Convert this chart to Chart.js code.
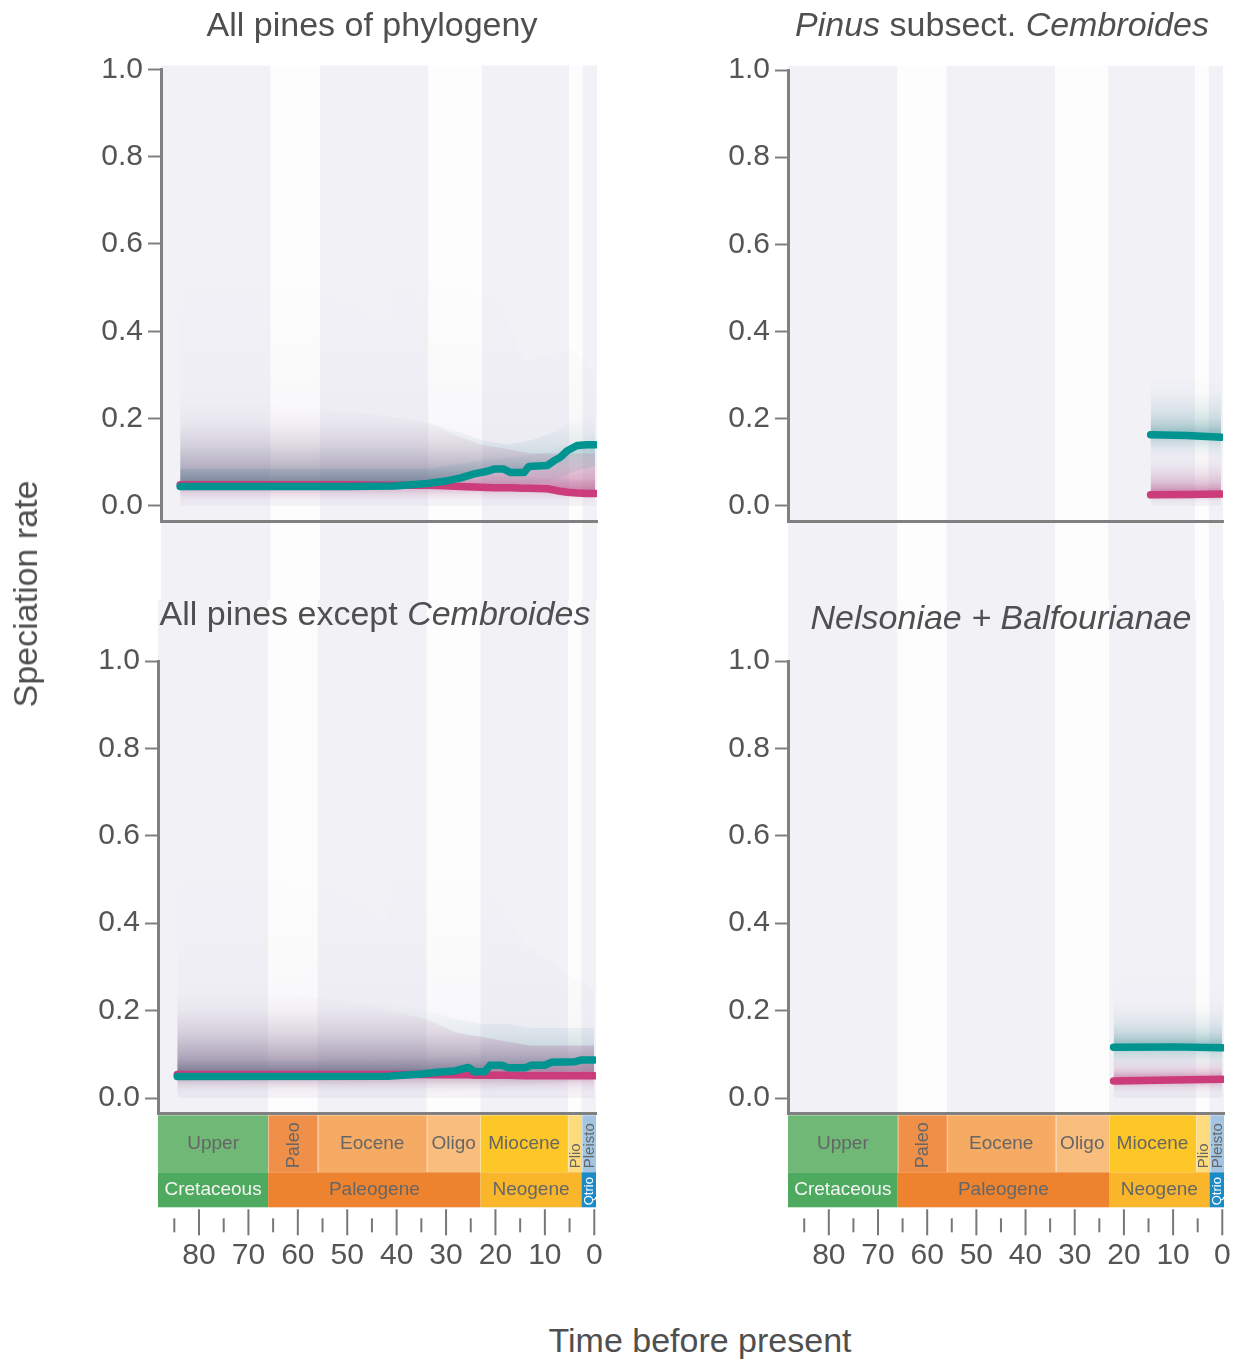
<!DOCTYPE html>
<html>
<head>
<meta charset="utf-8">
<script src="https://cdn.jsdelivr.net/npm/chart.js@4.4.1/dist/chart.umd.min.js"></script>
<style>
  body { margin: 0; background: #fff; }
  #page { position: relative; width: 1241px; height: 1363px; overflow: hidden;
          font-family: 'Liberation Sans', Arial, Helvetica, sans-serif; color: #4f4f4f; }
  canvas { position: absolute; }
  .lbl { position: absolute; font-size: 34px; line-height: 1; white-space: nowrap;
         transform: translate(-50%, -50%); }
</style>
</head>
<body>
<div id="page">
  <canvas id="tl" width="620" height="600" style="left:0;top:0"></canvas>
  <canvas id="tr" width="621" height="600" style="left:620px;top:0"></canvas>
  <canvas id="bl" width="620" height="700" style="left:0;top:600px"></canvas>
  <canvas id="br" width="621" height="700" style="left:620px;top:600px"></canvas>

  <div class="lbl" style="left:372px;top:24px">All pines of phylogeny</div>
  <div class="lbl" style="left:1002px;top:24px"><i>Pinus</i> subsect. <i>Cembroides</i></div>
  <div class="lbl" style="left:375px;top:613px">All pines except <i>Cembroides</i></div>
  <div class="lbl" style="left:1001px;top:617px"><i>Nelsoniae + Balfourianae</i></div>
  <div class="lbl" style="left:25px;top:594px;transform:translate(-50%,-50%) rotate(-90deg)">Speciation rate</div>
  <div class="lbl" style="left:700px;top:1340px">Time before present</div>
</div>
<script>
// ---- axes ----
const xMin = -0.35, xMax = 88.3;        // Ma, axis is reversed (past on the left)
const yMin = -0.035, yMax = 1.0;
const xTicks = [80, 70, 60, 50, 40, 30, 20, 10, 0];
const xMinorTicks = [85, 75, 65, 55, 45, 35, 25, 15, 5];
const yTicks = [0, 0.2, 0.4, 0.6, 0.8, 1.0];

// ---- geological time scale ----
const epochNames = ['Upper', 'Paleo', 'Eocene', 'Oligo', 'Miocene', 'Plio', 'Pleisto'];
const epochStart = [100.5, 66, 56, 33.9, 23.03, 5.333, 2.58];
const epochEnd = [66, 56, 33.9, 23.03, 5.333, 2.58, 0];
const periodNames = ['Cretaceous', 'Paleogene', 'Neogene', 'Qtrio'];
const periodStart = [100.5, 66, 23.03, 2.58];
const periodEnd = [66, 23.03, 2.58, 0];

// ---- All pines of phylogeny ----
const tlAge = [84.4, 70, 60, 50, 40.8, 34.1, 30.7, 27.3, 24.6, 21.9, 20.6, 18.6, 17.2, 14.5, 13.5, 9.8, 8.4, 7.1, 5.7, 3.7, 1.7, 0];
const tlTeal = [0.044, 0.044, 0.044, 0.044, 0.045, 0.051, 0.056, 0.064, 0.073, 0.079, 0.084, 0.084, 0.076, 0.076, 0.090, 0.092, 0.103, 0.111, 0.126, 0.138, 0.140, 0.140];
const tlMagenta = [0.048, 0.048, 0.048, 0.048, 0.047, 0.047, 0.046, 0.044, 0.043, 0.042, 0.041, 0.041, 0.041, 0.040, 0.040, 0.039, 0.036, 0.033, 0.031, 0.029, 0.028, 0.028];
const tlBandAge = [84.4, 75, 66, 56, 45, 34, 28, 23, 18, 13, 8, 4, 0];
const tlTealHi = [0.24, 0.24, 0.23, 0.22, 0.21, 0.19, 0.17, 0.15, 0.14, 0.15, 0.17, 0.2, 0.2];
const tlTealMid = [0.085, 0.085, 0.085, 0.085, 0.085, 0.085, 0.095, 0.105, 0.11, 0.115, 0.13, 0.165, 0.17];
const tlTealLo = [0, 0, 0, 0, 0.005, 0.015, 0.025, 0.035, 0.045, 0.05, 0.06, 0.08, 0.09];
const tlMagHi = [0.24, 0.24, 0.23, 0.22, 0.21, 0.19, 0.16, 0.14, 0.13, 0.12, 0.12, 0.12, 0.12];
const tlMagMid = [0.09, 0.09, 0.09, 0.09, 0.085, 0.08, 0.075, 0.07, 0.068, 0.065, 0.062, 0.06, 0.06];
const tlMagLo = [0.005, 0.005, 0.005, 0.005, 0.005, 0.005, 0.005, 0.005, 0.005, 0.005, 0.005, 0.003, 0.003];
const tlHazeAge = [84.4, 80, 75, 66, 51, 42, 40, 37, 36, 29, 25, 20, 14.5, 5, 0];
const tlHazeHi = [0.67, 0.67, 0.53, 0.53, 0.47, 0.41, 0.62, 0.62, 0.45, 0.65, 0.48, 0.48, 0.33, 0.36, 0.3];

// ---- Pinus subsect. Cembroides ----
const trAge = [14.4, 7, 0];
const trTeal = [0.163, 0.161, 0.157];
const trMagenta = [0.025, 0.026, 0.027];
const trBandAge = [14.4, 7, 0];
const trTealHi = [0.3, 0.29, 0.28];
const trTealMid = [0.21, 0.2, 0.2];
const trTealLo = [0.1, 0.1, 0.1];
const trMagHi = [0.12, 0.12, 0.12];
const trMagMid = [0.06, 0.06, 0.06];
const trMagLo = [0.005, 0.005, 0.005];
const trHazeAge = [14.4, 7, 0];
const trHazeHi = [0.37, 0.36, 0.35];

// ---- All pines except Cembroides ----
const blAge = [84.4, 41.8, 35.0, 31.6, 28.2, 25.5, 24.2, 22.1, 21.1, 18.7, 17.4, 14.0, 12.7, 10.0, 8.6, 3.9, 2.5, 0];
const blTeal = [0.049, 0.050, 0.055, 0.059, 0.062, 0.070, 0.060, 0.060, 0.075, 0.075, 0.069, 0.069, 0.075, 0.075, 0.082, 0.083, 0.087, 0.087];
const blMagenta = [0.054, 0.054, 0.054, 0.053, 0.053, 0.053, 0.052, 0.052, 0.052, 0.052, 0.052, 0.051, 0.051, 0.051, 0.051, 0.051, 0.051, 0.051];
const blBandAge = [84.4, 75, 66, 56, 45, 34, 28, 23, 18, 13, 8, 4, 0];
const blTealHi = [0.25, 0.25, 0.24, 0.23, 0.22, 0.2, 0.18, 0.17, 0.17, 0.16, 0.16, 0.16, 0.16];
const blTealMid = [0.085, 0.085, 0.085, 0.085, 0.085, 0.09, 0.095, 0.1, 0.105, 0.105, 0.11, 0.115, 0.115];
const blTealLo = [0, 0, 0, 0, 0.005, 0.01, 0.015, 0.02, 0.025, 0.03, 0.035, 0.04, 0.04];
const blMagHi = [0.25, 0.25, 0.24, 0.23, 0.21, 0.18, 0.15, 0.14, 0.13, 0.12, 0.12, 0.12, 0.12];
const blMagMid = [0.095, 0.095, 0.095, 0.095, 0.09, 0.09, 0.088, 0.085, 0.085, 0.085, 0.085, 0.085, 0.085];
const blMagLo = [0.005, 0.005, 0.005, 0.005, 0.005, 0.005, 0.005, 0.005, 0.005, 0.005, 0.005, 0.005, 0.005];
const blHazeAge = [84.4, 80, 75, 66, 51, 42, 40, 37, 35, 29, 26, 20, 14, 5, 0];
const blHazeHi = [0.67, 0.65, 0.55, 0.5, 0.47, 0.4, 0.63, 0.63, 0.5, 0.6, 0.55, 0.45, 0.35, 0.28, 0.25];

// ---- Nelsoniae + Balfourianae ----
const brAge = [22.1, 10, 0];
const brTeal = [0.116, 0.117, 0.115];
const brMagenta = [0.039, 0.041, 0.043];
const brBandAge = [22.1, 10, 0];
const brTealHi = [0.23, 0.23, 0.23];
const brTealMid = [0.16, 0.16, 0.16];
const brTealLo = [0.06, 0.06, 0.06];
const brMagHi = [0.1, 0.1, 0.1];
const brMagMid = [0.065, 0.065, 0.065];
const brMagLo = [0.005, 0.005, 0.005];
const brHazeAge = [22.1, 10, 0];
const brHazeHi = [0.37, 0.36, 0.35];

// ---- styles ----
const TEAL = '#009491';
const MAGENTA = '#cc3b7a';
const TEAL_HAZE = '20,118,124';
const MAG_HAZE = '178,68,126';
const GREY_HAZE = '205,200,222';
const BAND_GREY = '#f1f1f6';
const BAND_WHITE = '#fefdfd';
const AXIS_GREY = '#808080';
const TEXT_GREY = '#555555';
const epochColors = ['#6fb875', '#ef8f48', '#f5ab63', '#f9bd7d', '#fdc728', '#fedb7c', '#a3c5e2'];
const epochVertical = [false, true, false, false, false, true, true];
const epochFontSize = [19, 18, 19, 19, 19, 15, 15];
const periodColors = ['#4eaa5e', '#ed832f', '#f9b62b', '#1a8bc6'];
const periodTextColors = ['#f4f4f4', '#666666', '#666666', '#ffffff'];

Chart.defaults.font.family = "'Liberation Sans', Arial, Helvetica, sans-serif";
Chart.defaults.animation = false;

const pts = (ages, vals) => ages.map((a, i) => ({ x: a, y: vals[i] }));
const clampAge = v => (v <= 0 ? xMin : Math.min(v, xMax));
const maxOf = a => Math.max(...a);
const minOf = a => Math.min(...a);

// vertical gradient: alpha rises (or falls) towards the median line, eased so most
// of the colour sits close to the line
const grad = (chart, topVal, botVal, rgb, aTop, aBot) => {
  const y = chart.scales.y;
  const flat = `rgba(${rgb},${(aTop + aBot) / 2})`;
  if (!chart.chartArea || !y) return flat;
  const y0 = y.getPixelForValue(topVal), y1 = y.getPixelForValue(botVal);
  if (!isFinite(y0) || !isFinite(y1) || y0 === y1) return flat;
  const g = chart.ctx.createLinearGradient(0, y0, 0, y1);
  [0, 0.25, 0.5, 0.7, 0.85, 1].forEach(t => {
    const w = aTop > aBot ? 1 - t : t;          // 0 far from the line, 1 at the line
    const a = Math.max(aTop, aBot) * Math.pow(w, 2.2);
    g.addColorStop(t, `rgba(${rgb},${a.toFixed(3)})`);
  });
  return g;
};

// alternating epoch bands behind the plot
const bandsPlugin = (topFn, bottomFn) => ({
  id: 'epochBands',
  beforeDraw(chart) {
    const { ctx, scales: { x } } = chart;
    const top = topFn(chart), bottom = bottomFn(chart);
    ctx.save();
    epochStart.forEach((s, i) => {
      const x0 = x.getPixelForValue(clampAge(s)), x1 = x.getPixelForValue(clampAge(epochEnd[i]));
      ctx.fillStyle = i % 2 === 0 ? BAND_GREY : BAND_WHITE;
      ctx.fillRect(x0, top, x1 - x0, bottom - top);
    });
    ctx.restore();
  }
});

// time scale bar + tick marks under the bottom panels
const timescalePlugin = {
  id: 'timescale',
  afterDraw(chart) {
    const { ctx, chartArea, scales: { x } } = chart;
    const b = chartArea.bottom;
    const cell = (s, e, y0, h, color, name, txtColor, size, vertical, vy) => {
      const x0 = x.getPixelForValue(clampAge(s)), x1 = x.getPixelForValue(clampAge(e));
      ctx.fillStyle = color;
      ctx.fillRect(x0, y0, x1 - x0, h);
      ctx.fillStyle = txtColor;
      ctx.font = `${size}px 'Liberation Sans', Arial, sans-serif`;
      ctx.textBaseline = 'middle';
      const cx = (x0 + x1) / 2;
      if (vertical) {
        ctx.save();
        ctx.translate(cx + 1, vy);
        ctx.rotate(-Math.PI / 2);
        ctx.textAlign = 'left';
        ctx.fillText(name, 0, 0);
        ctx.restore();
      } else {
        ctx.textAlign = 'center';
        ctx.fillText(name, cx, y0 + h / 2);
      }
    };
    ctx.save();
    epochNames.forEach((n, i) => {
      cell(epochStart[i], epochEnd[i], b + 2, 57, epochColors[i], n, '#666666', epochFontSize[i], epochVertical[i], b + 55);
    });
    // faint separators between epochs
    ctx.strokeStyle = 'rgba(255,255,255,0.35)';
    ctx.lineWidth = 1;
    epochEnd.slice(0, -1).forEach(e => {
      const px = Math.round(x.getPixelForValue(e)) + 0.5;
      ctx.beginPath(); ctx.moveTo(px, b + 2); ctx.lineTo(px, b + 59); ctx.stroke();
    });
    periodNames.forEach((n, i) => {
      const last = i === periodNames.length - 1;
      cell(periodStart[i], periodEnd[i], b + 59, 35, periodColors[i], n, periodTextColors[i], last ? 13 : 19, last, b + 92);
    });
    ctx.strokeStyle = '#777777';
    ctx.lineWidth = 2;
    const tick = (v, y0, y1) => {
      const px = x.getPixelForValue(v);
      ctx.beginPath(); ctx.moveTo(px, y0); ctx.lineTo(px, y1); ctx.stroke();
    };
    xTicks.forEach(v => tick(v, b + 96, b + 122));
    xMinorTicks.forEach(v => tick(v, b + 105, b + 119));
    ctx.restore();
  }
};

function makePanel(id, d, box) {
  const haze = (data, target, color, order) => ({
    data, fill: target, backgroundColor: color, borderWidth: 0, pointRadius: 0, order
  });
  const datasets = [
    { data: pts(d.age, d.teal), borderColor: TEAL, borderWidth: 7.5, borderCapStyle: 'round',
      borderJoinStyle: 'round', pointRadius: 0, fill: false, order: 0 },
    { data: pts(d.age, d.magenta), borderColor: MAGENTA, borderWidth: 7.5, borderCapStyle: 'round',
      borderJoinStyle: 'round', pointRadius: 0, fill: false, order: 1 },
    haze(pts(d.hazeAge, d.hazeHi), { value: 0 },
      c => grad(c.chart, maxOf(d.hazeHi), 0.03, GREY_HAZE, 0.0, 0.2), 9),
    haze(pts(d.bandAge, d.magHi), 1,
      c => grad(c.chart, maxOf(d.magHi), minOf(d.magenta), MAG_HAZE, 0, 0.55), 8),
    haze(pts(d.bandAge, d.tealHi), 0,
      c => grad(c.chart, maxOf(d.tealHi), minOf(d.teal), TEAL_HAZE, 0, 0.36), 7),
    haze(pts(d.bandAge, d.magMid), 1,
      c => grad(c.chart, maxOf(d.magMid), minOf(d.magenta), MAG_HAZE, 0, 0.32), 6),
    haze(pts(d.bandAge, d.tealMid), 0,
      c => grad(c.chart, maxOf(d.tealMid), minOf(d.teal), TEAL_HAZE, 0, 0.24), 5),
    haze(pts(d.bandAge, d.magLo), 1,
      c => grad(c.chart, maxOf(d.magenta), minOf(d.magLo), MAG_HAZE, 0.45, 0), 4),
    haze(pts(d.bandAge, d.tealLo), 0,
      c => grad(c.chart, maxOf(d.teal), minOf(d.tealLo), TEAL_HAZE, 0.3, 0), 3)
  ];
  const plugins = [box.bottom
    ? bandsPlugin(() => 0, c => c.chartArea.bottom)
    : bandsPlugin(c => c.chartArea.top - 4, c => c.height)];
  if (box.bottom) plugins.push(timescalePlugin);

  return new Chart(document.getElementById(id), {
    type: 'line',
    data: { datasets },
    plugins,
    options: {
      responsive: false,
      events: [],
      layout: { padding: { top: box.top, right: box.right, left: 0, bottom: 0 } },
      plugins: { legend: { display: false }, tooltip: { enabled: false } },
      scales: {
        x: {
          type: 'linear', reverse: true, min: xMin, max: xMax,
          afterBuildTicks: s => { s.ticks = xTicks.map(v => ({ value: v })); },
          // invisible long tick marks push the labels below the time scale bar
          grid: { display: true, drawOnChartArea: false, drawTicks: true, tickLength: 124,
                  tickColor: 'rgba(0,0,0,0)' },
          border: { display: true, color: AXIS_GREY, width: 3 },
          ticks: { display: box.bottom, padding: 0, color: TEXT_GREY, font: { size: 30 },
                   maxRotation: 0, autoSkip: false, callback: v => String(v) },
          afterFit: s => { s.height = box.xHeight; }
        },
        y: {
          type: 'linear', min: yMin, max: yMax,
          afterBuildTicks: s => { s.ticks = yTicks.map(v => ({ value: v })); },
          grid: { drawOnChartArea: false, tickLength: 13, tickWidth: 2, tickColor: AXIS_GREY },
          border: { display: true, color: AXIS_GREY, width: 3 },
          ticks: { padding: 5, color: TEXT_GREY, font: { size: 30 }, callback: v => v.toFixed(1) },
          afterFit: s => { s.width = box.yWidth; }
        }
      }
    }
  });
}

makePanel('tl', {
  age: tlAge, teal: tlTeal, magenta: tlMagenta, bandAge: tlBandAge,
  tealHi: tlTealHi, tealMid: tlTealMid, tealLo: tlTealLo,
  magHi: tlMagHi, magMid: tlMagMid, magLo: tlMagLo, hazeAge: tlHazeAge, hazeHi: tlHazeHi
}, { top: 69.5, right: 23, yWidth: 161, xHeight: 79, bottom: false });

makePanel('tr', {
  age: trAge, teal: trTeal, magenta: trMagenta, bandAge: trBandAge,
  tealHi: trTealHi, tealMid: trTealMid, tealLo: trTealLo,
  magHi: trMagHi, magMid: trMagMid, magLo: trMagLo, hazeAge: trHazeAge, hazeHi: trHazeHi
}, { top: 70, right: 18, yWidth: 168, xHeight: 79, bottom: false });

makePanel('bl', {
  age: blAge, teal: blTeal, magenta: blMagenta, bandAge: blBandAge,
  tealHi: blTealHi, tealMid: blTealMid, tealLo: blTealLo,
  magHi: blMagHi, magMid: blMagMid, magLo: blMagLo, hazeAge: blHazeAge, hazeHi: blHazeHi
}, { top: 61, right: 24, yWidth: 158, xHeight: 186.7, bottom: true });

makePanel('br', {
  age: brAge, teal: brTeal, magenta: brMagenta, bandAge: brBandAge,
  tealHi: brTealHi, tealMid: brTealMid, tealLo: brTealLo,
  magHi: brMagHi, magMid: brMagMid, magLo: brMagLo, hazeAge: brHazeAge, hazeHi: brHazeHi
}, { top: 61, right: 17, yWidth: 168, xHeight: 186.7, bottom: true });
</script>
</body>
</html>
